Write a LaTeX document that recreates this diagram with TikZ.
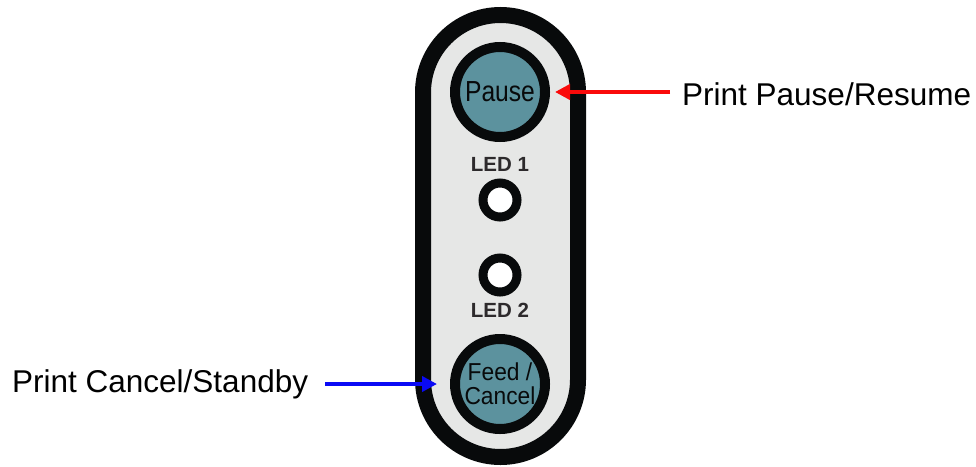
\documentclass[tikz,border=0pt]{standalone}
\usepackage{graphicx}
\usepackage{fontspec}
\setmainfont{Liberation Sans}
\usepackage{tikz}
\usetikzlibrary{arrows.meta,positioning,calc}
\definecolor{panelgray}{RGB}{230,231,230}
\definecolor{rim}{RGB}{8,10,11}
\definecolor{teal}{RGB}{92,146,158}
\definecolor{ledtext}{RGB}{45,42,44}
\definecolor{pred}{RGB}{250,10,10}
\definecolor{pblue}{RGB}{10,10,245}
\newcommand{\narrow}[2]{\scalebox{#1}[1]{#2}}
\tikzset{
  button/.style={circle,draw=rim,line width=10pt,fill=teal,
                 minimum size=90pt,inner sep=0pt,align=center,text=rim},
  led/.style={circle,draw=rim,line width=9pt,fill=white,
               minimum size=34pt,inner sep=0pt},
  ledlabel/.style={font=\fontsize{20.5}{21}\selectfont\bfseries,
                   text=ledtext,inner sep=0pt,anchor=base},
  callout/.style={font=\fontsize{31.5}{32}\selectfont,inner sep=0pt,
                  anchor=base west},
  pointer/.style={-{Triangle[length=15pt,width=15pt]},line width=4.5pt}
}
\begin{document}
\begin{tikzpicture}[x=1pt,y=-1pt]
  \useasboundingbox (0,0) rectangle (976,466);
  % panel body
  \draw[draw=rim,fill=panelgray,line width=16pt,rounded corners=77.5pt]
    (423,15) rectangle (578,457);
  % buttons and lamps
  \node[button,font=\fontsize{29}{29}\selectfont] (pause) at (500,92)
    {\narrow{0.85}{Pause}};
  \node[button,font=\fontsize{24.5}{24}\selectfont] (feed) at (500,384)
    {\narrow{0.93}{Feed /}\\\narrow{0.93}{Cancel}};
  \node[ledlabel] (ledonelbl) at (500,171) {LED 1};
  \node[led] (ledone) at (500,200) {};
  \node[led] (ledtwo) at (500,275) {};
  \node[ledlabel] (ledtwolbl) at (500,317) {LED 2};
  % callouts
  \node[callout] (pauselbl) at (682,105) {Print Pause/Resume};
  \node[callout] (feedlbl) at (12,392) {Print Cancel/Standby};
  \draw[pointer,draw=pred,shorten <=12pt,shorten >=5pt]
    (pauselbl.west |- pause.center) -- (pause.east);
  \draw[pointer,draw=pblue,shorten <=17pt,shorten >=13pt]
    (feedlbl.east |- feed.center) -- (feed.west);
\end{tikzpicture}
\end{document}
